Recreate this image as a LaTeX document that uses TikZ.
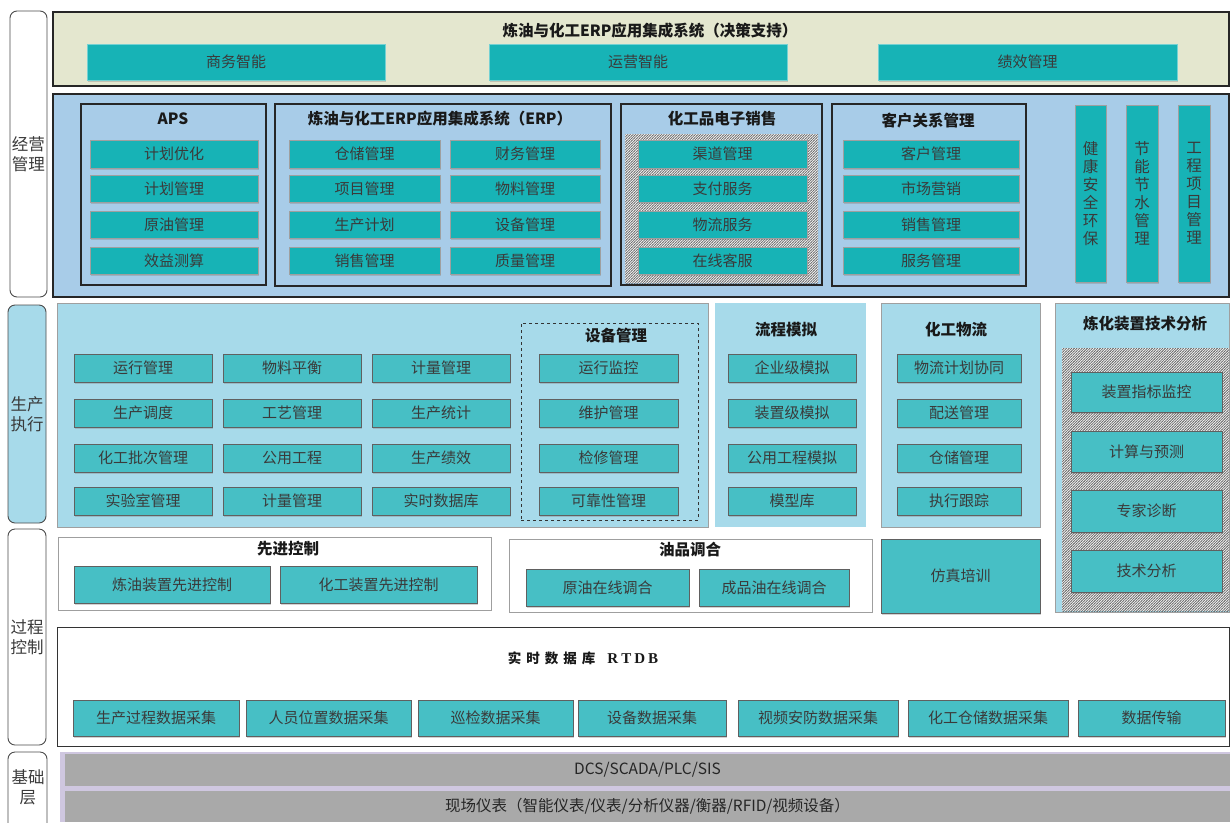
\documentclass[tikz,border=0pt]{standalone}
\usepackage{fontspec}
\setmainfont{Noto Sans CJK SC}
\newfontfamily\serifrt{Liberation Serif}
\usetikzlibrary{patterns,shadows}
\pgfdeclarepatternformonly{densene}{\pgfqpoint{-1pt}{-1pt}}{\pgfqpoint{3.5pt}{3.5pt}}{\pgfqpoint{2.6pt}{2.6pt}}{%
  \pgfsetlinewidth{0.55pt}\pgfpathmoveto{\pgfqpoint{-0.5pt}{-0.5pt}}\pgfpathlineto{\pgfqpoint{3.1pt}{3.1pt}}\pgfusepath{stroke}}
\definecolor{tealA}{HTML}{17B3B6}
\definecolor{tealB}{HTML}{47BFC5}
\definecolor{oliveL}{HTML}{E4E7CF}
\definecolor{skyA}{HTML}{A8CCE8}
\definecolor{skyB}{HTML}{A7DAEA}
\definecolor{purpL}{HTML}{CFC7E0}
\definecolor{grayB}{HTML}{A9A9A9}
\definecolor{txt}{HTML}{3A3A3A}
\newcommand\bx[7]{\node[#1, minimum width={#5-#3}, minimum height={#6-#4}] (#2) at ({(#3+#5)/2},{(#4+#6)/2}) {#7};}
\begin{document}
\begin{tikzpicture}[x=1pt,y=-1pt,
  every node/.append style={inner sep=0pt, outer sep=0pt},
  shd/.style={drop shadow={shadow xshift=1.2pt, shadow yshift=-2pt, opacity=0.35}},
  itemA/.style={fill=tealA, draw=gray!75, line width=0.9pt, shd, font=\fontsize{15}{16}\selectfont, text=txt},
  topitem/.style={fill=tealA, draw=tealA!60!white, line width=0.8pt, shd, font=\fontsize{15}{16}\selectfont, text=txt},
  itemB/.style={fill=tealB, draw=gray!75!black, line width=0.9pt, shd, font=\fontsize{15}{16}\selectfont, text=txt},
  vitem/.style={fill=tealA, draw=gray!75, line width=0.9pt, shd, font=\fontsize{15.5}{18}\selectfont, text=txt, align=center},
  panel/.style={draw=black!85, line width=1.6pt},
  thinpanel/.style={draw=gray!75, line width=0.8pt},
  ttl/.style={font=\bfseries\fontsize{15.5}{18}\selectfont, text=black!90},
  lyr/.style={draw=gray!60!black, line width=0.9pt, rounded corners=7pt, fill=white, font=\fontsize{16.5}{20}\selectfont, text=txt, align=center},
  hatch/.style={fill=gray!12, postaction={pattern=densene, pattern color=gray!80!black}},
  barbox/.style={fill=grayB, font=\fontsize{15.5}{18}\selectfont, text=black!85}
]
\useasboundingbox[fill=white] (0,0) rectangle (1230,822);

% ---------- left layer labels ----------
\bx{lyr}{L1}{10}{11}{47}{297}{经营\\管理}
\bx{lyr, fill=skyB}{L2}{8}{305}{46}{523}{生产\\执行}
\bx{lyr}{L3}{8}{529}{46}{745}{过程\\控制}
\bx{lyr}{L4}{8}{752}{47}{836}{}
\node[font=\fontsize{16.5}{20}\selectfont, text=txt, align=center] (L4t) at (28,787) {基础\\层};

% ---------- decision support ----------
\bx{panel, fill=oliveL}{P0}{53}{12}{1229}{86}{}
\node[ttl] (P0t) at (650,31) {炼油与化工ERP应用集成系统（决策支持）};
\bx{topitem}{t1}{87}{44}{385}{80}{商务智能}
\bx{topitem}{t2}{489}{44}{787}{80}{运营智能}
\bx{topitem}{t3}{878}{44}{1177}{80}{绩效管理}

% ---------- management ----------
\bx{panel, fill=skyA}{P1}{53}{94}{1229}{297}{}

\bx{panel, fill=skyA}{aps}{81}{104}{266}{285}{}
\node[ttl] (apst) at (173,119) {APS};
\bx{itemA}{a1}{90}{140}{258}{168}{计划优化}
\bx{itemA}{a2}{90}{175}{258}{202}{计划管理}
\bx{itemA}{a3}{90}{211}{258}{238}{原油管理}
\bx{itemA}{a4}{90}{247}{258}{274}{效益测算}

\bx{panel, fill=skyA}{erp}{275}{104}{611}{286}{}
\node[ttl] (erpt) at (440,119) {炼油与化工ERP应用集成系统（ERP）};
\bx{itemA}{e1}{289}{140}{440}{168}{仓储管理}
\bx{itemA}{e2}{289}{175}{440}{202}{项目管理}
\bx{itemA}{e3}{289}{211}{440}{238}{生产计划}
\bx{itemA}{e4}{289}{247}{440}{274}{销售管理}
\bx{itemA}{e5}{450}{140}{600}{168}{财务管理}
\bx{itemA}{e6}{450}{175}{600}{202}{物料管理}
\bx{itemA}{e7}{450}{211}{600}{238}{设备管理}
\bx{itemA}{e8}{450}{247}{600}{274}{质量管理}

\bx{panel, fill=skyA}{es}{621}{104}{822}{285}{}
\node[ttl] (est) at (722,119) {化工品电子销售};
\bx{hatch}{esh}{625}{134}{818}{283}{}
\bx{itemA}{s1}{638}{140}{807}{168}{渠道管理}
\bx{itemA}{s2}{638}{175}{807}{202}{支付服务}
\bx{itemA}{s3}{638}{211}{807}{238}{物流服务}
\bx{itemA}{s4}{638}{247}{807}{274}{在线客服}

\bx{panel, fill=skyA}{crm}{832}{104}{1026}{286}{}
\node[ttl] (crmt) at (928,121) {客户关系管理};
\bx{itemA}{c1}{843}{140}{1019}{168}{客户管理}
\bx{itemA}{c2}{843}{175}{1019}{202}{市场营销}
\bx{itemA}{c3}{843}{211}{1019}{238}{销售管理}
\bx{itemA}{c4}{843}{247}{1019}{274}{服务管理}

\bx{vitem}{v1}{1075}{105}{1106}{282}{健\\康\\安\\全\\环\\保}
\bx{vitem}{v2}{1126}{105}{1158}{282}{节\\能\\节\\水\\管\\理}
\bx{vitem}{v3}{1178}{105}{1210}{282}{工\\程\\项\\目\\管\\理}

% ---------- production execution ----------
\bx{thinpanel, fill=skyB}{mes}{57}{303}{708}{527}{}
\bx{itemB}{m1}{74}{354}{212}{382}{运行管理}
\bx{itemB}{m2}{223}{354}{361}{382}{物料平衡}
\bx{itemB}{m3}{372}{354}{510}{382}{计量管理}
\bx{itemB}{m4}{74}{399}{212}{427}{生产调度}
\bx{itemB}{m5}{223}{399}{361}{427}{工艺管理}
\bx{itemB}{m6}{372}{399}{510}{427}{生产统计}
\bx{itemB}{m7}{74}{444}{212}{472}{化工批次管理}
\bx{itemB}{m8}{223}{444}{361}{472}{公用工程}
\bx{itemB}{m9}{372}{444}{510}{472}{生产绩效}
\bx{itemB}{m10}{74}{487}{212}{515}{实验室管理}
\bx{itemB}{m11}{223}{487}{361}{515}{计量管理}
\bx{itemB}{m12}{372}{487}{510}{515}{实时数据库}

\bx{draw=black!80, dashed, line width=0.7pt}{eq}{521}{323}{698}{520}{}
\node[ttl] (eqt) at (616,336) {设备管理};
\bx{itemB}{q1}{539}{354}{678}{382}{运行监控}
\bx{itemB}{q2}{539}{399}{678}{427}{维护管理}
\bx{itemB}{q3}{539}{444}{678}{472}{检修管理}
\bx{itemB}{q4}{539}{487}{678}{515}{可靠性管理}

\bx{fill=skyB}{sim}{715}{303}{866}{527}{}
\node[ttl] (simt) at (786,330) {流程模拟};
\bx{itemB}{f1}{728}{354}{856}{382}{企业级模拟}
\bx{itemB}{f2}{728}{399}{856}{427}{装置级模拟}
\bx{itemB}{f3}{728}{444}{856}{472}{公用工程模拟}
\bx{itemB}{f4}{728}{487}{856}{515}{模型库}

\bx{thinpanel, fill=skyB}{lg}{881}{303}{1040}{527}{}
\node[ttl] (lgt) at (956,330) {化工物流};
\bx{itemB}{g1}{897}{354}{1021}{382}{物流计划协同}
\bx{itemB}{g2}{897}{399}{1021}{427}{配送管理}
\bx{itemB}{g3}{897}{444}{1021}{472}{仓储管理}
\bx{itemB}{g4}{897}{487}{1021}{515}{执行跟踪}

\bx{thinpanel, fill=skyB}{ta}{1055}{303}{1229}{612}{}
\node[ttl] (tat) at (1145,324) {炼化装置技术分析};
\bx{hatch}{tah}{1062}{348}{1229}{611}{}
\bx{itemB}{k1}{1071}{372}{1222}{412}{装置指标监控}
\bx{itemB}{k2}{1071}{431}{1222}{472}{计算与预测}
\bx{itemB}{k3}{1071}{490}{1222}{532}{专家诊断}
\bx{itemB}{k4}{1071}{550}{1222}{592}{技术分析}

% ---------- process control ----------
\bx{thinpanel, fill=white}{apc}{58}{537}{491}{610}{}
\node[ttl] (apct) at (288,549) {先进控制};
\bx{itemB}{p1}{74}{566}{270}{603}{炼油装置先进控制}
\bx{itemB}{p2}{280}{566}{477}{603}{化工装置先进控制}

\bx{thinpanel, fill=white}{bl}{509}{539}{872}{612}{}
\node[ttl] (blt) at (690,550) {油品调合};
\bx{itemB}{b1}{526}{569}{689}{606}{原油在线调合}
\bx{itemB}{b2}{699}{569}{849}{606}{成品油在线调合}

\bx{itemB}{ots}{881}{539}{1040}{613}{仿真培训}

\bx{draw=black!80, line width=0.9pt, fill=white}{rt}{57}{627}{1229}{746}{}
\node[font=\bfseries\fontsize{13.5}{16}\selectfont, text=black!90] (rtt) at (583,658)
  {实\hspace{5pt}时\hspace{5pt}数\hspace{5pt}据\hspace{5pt}库\hspace{12pt}{\serifrt\fontsize{15}{16}\selectfont R\hspace{3pt}T\hspace{3pt}D\hspace{3pt}B}};
\bx{itemB}{r1}{73}{700}{239}{736}{生产过程数据采集}
\bx{itemB}{r2}{246}{700}{411}{736}{人员位置数据采集}
\bx{itemB}{r3}{418}{700}{573}{736}{巡检数据采集}
\bx{itemB}{r4}{578}{700}{726}{736}{设备数据采集}
\bx{itemB}{r5}{738}{700}{898}{736}{视频安防数据采集}
\bx{itemB}{r6}{908}{700}{1068}{736}{化工仓储数据采集}
\bx{itemB}{r7}{1078}{700}{1225}{736}{数据传输}

% ---------- base layer ----------
\bx{fill=purpL}{base}{60}{752}{1230}{822}{}
\bx{barbox}{dcs}{65}{754}{1230}{786}{DCS/SCADA/PLC/SIS}
\bx{barbox}{fld}{65}{791}{1230}{822}{现场仪表（智能仪表/仪表/分析仪器/衡器/RFID/视频设备）}
\end{tikzpicture}
\end{document}
